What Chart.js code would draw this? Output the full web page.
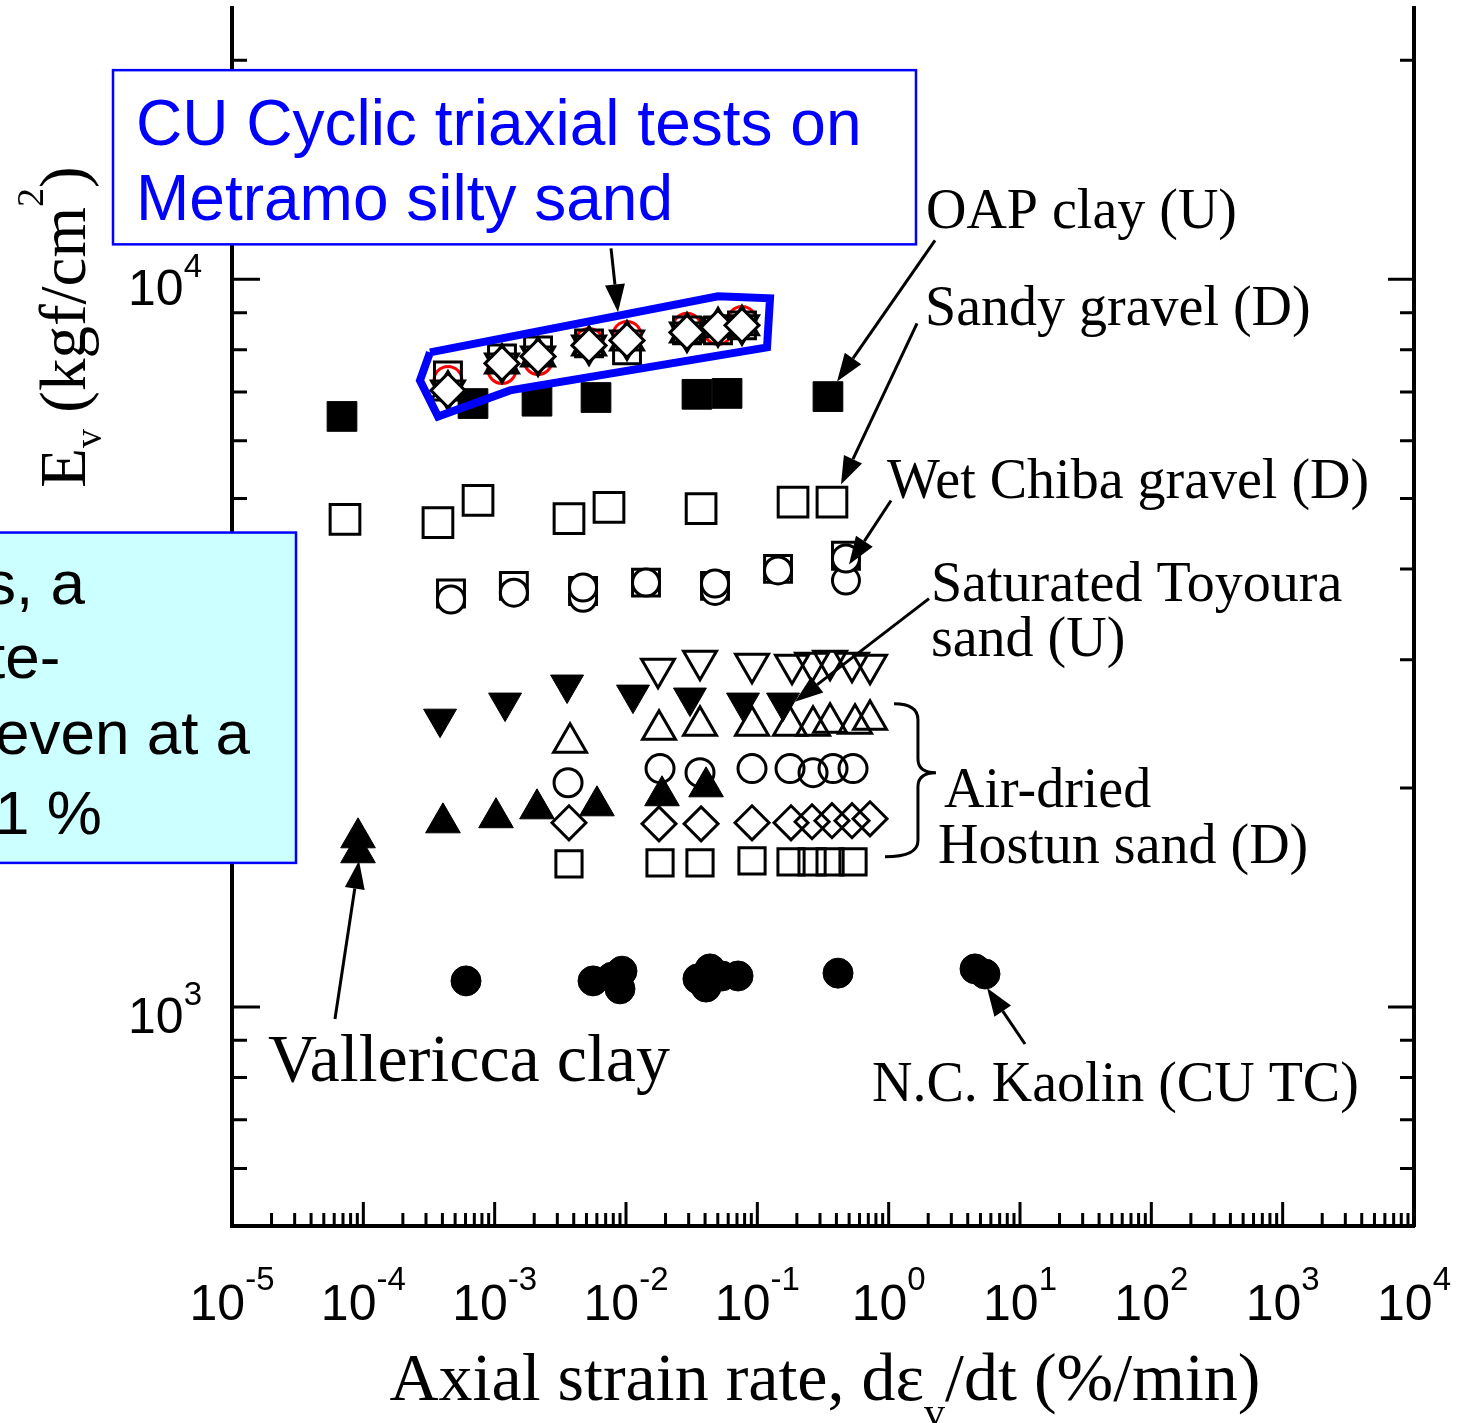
<!DOCTYPE html>
<html>
<head>
<meta charset="utf-8">
<script src="https://cdn.jsdelivr.net/npm/chart.js@4.4.1/dist/chart.umd.min.js"></script>
<style>
    html, body { margin: 0; padding: 0; background: #fff; }
    #wrap { width: 1478px; height: 1423px; position: relative; }
</style>
</head>
<body>
<div id="wrap"><canvas id="chart" width="1478" height="1423"></canvas></div>
<script>
// x: axial strain rate (%/min), y: Ev (kgf/cm2)

// CU cyclic triaxial tests on Metramo silty sand
const metX = [4.41e-4, 1.137e-3, 2.14e-3, 5.23e-3, 0.01018, 0.02914, 0.0502, 0.0764];
const metDiamondY = [7036, 7664, 7836, 8114, 8243, 8454, 8590, 8645];
const metTriY = [7036, 7664, 7836, 8114, 8243, 8454, 8590, 8645];
const metSquareY = [7380, 7786, 7986, 8165, 7986, 8508, 8508, 8645];
const metCircleY = [7262, 7519, 7737, 8190, 8374, 8590, 8508, 8781];

// outline drawn round the Metramo points
const outlineX = [3.218e-4, 0.0502, 0.1249, 0.1185, 1.308e-3, 3.703e-4, 2.70e-4, 3.218e-4];
const outlineY = [7937, 9476, 9416, 8062, 7036, 6480, 7262, 7937];

// OAP clay (U)
const oapX = [6.88e-5, 6.84e-4, 2.10e-3, 5.91e-3, 0.0347, 0.0588, 0.345];
const oapY = [6480, 6750, 6800, 6880, 6950, 6970, 6900];

// Sandy gravel (D)
const sandyX = [7.25e-5, 3.70e-4, 7.47e-4, 3.68e-3, 7.42e-3, 0.0373, 0.187, 0.370];
const sandyY = [4680, 4630, 4970, 4690, 4860, 4840, 4940, 4940];

// Wet Chiba gravel (D)
const chibaX = [4.65e-4, 1.40e-3, 4.71e-3, 0.0142, 0.0476, 0.1437, 0.473];
const chibaSquareY = [3700, 3790, 3730, 3830, 3790, 4000, 4170];
const chibaCircleY = [3630, 3710, 3650, 3830, 3730, 3980, 3855];
const chibaCircle2X = [4.71e-3, 0.0476, 0.473];
const chibaCircle2Y = [3770, 3818, 4133];

// Saturated Toyoura sand (U)
const toyouraX = [3.84e-4, 1.20e-3, 3.56e-3, 0.0113, 0.0307, 0.0778, 0.157];
const toyouraY = [2490, 2620, 2774, 2687, 2662, 2620, 2620];

// filled up triangles
const solidUpX = [4.04e-4, 1.024e-3, 2.10e-3, 6.01e-3, 0.0188, 0.0407];
const solidUpY = [1791, 1820, 1872, 1890, 1951, 2007];

// Vallericca clay
const valX = [9.11e-5, 9.11e-5];
const valY = [1708, 1629];

// Air-dried Hostun sand (D)
const hostDownX = [0.01753, 0.0366, 0.0911, 0.1837, 0.261, 0.358, 0.526, 0.721];
const hostDownY = [2917, 2992, 2963, 2954, 2973, 2992, 2973, 2954];
const hostUpX = [3.75e-3, 0.01784, 0.0366, 0.0911, 0.1774, 0.2655, 0.358, 0.5544, 0.721];
const hostUpY = [2307, 2404, 2435, 2435, 2435, 2435, 2458, 2450, 2482];
const hostCircleX = [3.62e-3, 0.01816, 0.0366, 0.0911, 0.1774, 0.2655, 0.377, 0.5354];
const hostCircleY = [2033, 2126, 2099, 2126, 2126, 2099, 2126, 2126];
const hostDiamondX = [3.68e-3, 0.01784, 0.0373, 0.0911, 0.1805, 0.261, 0.370, 0.526, 0.721];
const hostDiamondY = [1791, 1785, 1785, 1791, 1791, 1797, 1803, 1803, 1814];
const hostSquareX = [3.68e-3, 0.01816, 0.0366, 0.0911, 0.1805, 0.261, 0.358, 0.5354];
const hostSquareY = [1573, 1578, 1578, 1588, 1583, 1583, 1583, 1583];

// N.C. Kaolin (CU TC)
const kaolinX = [6.05e-4, 5.61e-3, 7.82e-3, 9.32e-3, 9.00e-3, 0.0353, 0.0436, 0.0407, 0.0538, 0.0713, 0.4115, 4.545, 5.415];
const kaolinY = [1086, 1086, 1099, 1120, 1059, 1093, 1128, 1065, 1103, 1103, 1113, 1128, 1110];

// axis ticks
const xExponents = [-5, -4, -3, -2, -1, 0, 1, 2, 3, 4];
const yExponents = [3, 4];
const yMinorTicks = [500, 600, 700, 800, 900, 2000, 3000, 4000, 5000, 6000, 7000, 8000, 9000, 20000];

const SANS = '"Liberation Sans", Arial, sans-serif';
const SERIF = '"Liberation Serif", "Times New Roman", serif';

// annotation anchors, in log10 units of the two axes
const labelAnchors = [
    { text: "OAP clay (U)", at: [0.284, 4.070], size: 56 },
    { text: "Sandy gravel (D)", at: [0.277, 3.937], size: 56 },
    { text: "Wet Chiba gravel (D)", at: [-0.013, 3.700], size: 56 },
    { text: "Saturated Toyoura", at: [0.322, 3.5585], size: 56 },
    { text: "sand (U)", at: [0.322, 3.483], size: 56 },
    { text: "Air-dried", at: [0.421, 3.275], size: 56 },
    { text: "Hostun sand (D)", at: [0.376, 3.198], size: 56 },
    { text: "Vallericca clay", at: [-4.726, 2.898], size: 68 },
    { text: "N.C. Kaolin (CU TC)", at: [-0.127, 2.871], size: 56 }
];

const arrowAnchors = [
    [[0.353, 4.0536], [-0.393, 3.8597]],
    [[0.216, 3.9395], [-0.363, 3.718]],
    [[0.018, 3.696], [-0.302, 3.608]],
    [[0.307, 3.5612], [-0.713, 3.4195]],
    [[-4.216, 2.9835], [-4.033, 3.2008]],
    [[1.038, 2.9491], [0.749, 3.0261]],
    [[-2.114, 4.0426], [-2.061, 3.9546]]
];

const braceAnchor = { top: [0.041, 3.4168], tip: [0.36, 3.3219], bottom: [-0.028, 3.2063], mid: 0.223 };

const blueNote = {
    box: [[-5.906, 4.2875], [0.208, 4.0481]],
    lines: ["CU Cyclic triaxial tests on", "Metramo silty sand"],
    at: [[-5.731, 4.1843], [-5.731, 4.0812]],
    size: 64
};

const cyanNote = {
    box: [[-6.805, 3.652], [-4.5127, 3.198]],
    lines: ["s, a", "te-", "even at a", "1 %"],
    at: [[-6.881, 3.5543], [-6.858, 3.4525], [-6.8046, 3.348], [-6.8046, 3.238]],
    size: 62
};

function pts(xs, ys) {
    return xs.map(function (x, i) { return { x: x, y: ys[i] }; });
}

function marker(label, xs, ys, style, radius, fill, stroke, width, rotation) {
    return {
        label: label,
        data: pts(xs, ys),
        showLine: false,
        pointStyle: style,
        pointRadius: radius,
        pointHoverRadius: radius,
        pointBackgroundColor: fill,
        pointBorderColor: stroke,
        pointBorderWidth: width,
        pointRotation: rotation || 0
    };
}

function drawRich(ctx, parts, x, y, align, family) {
    let w = 0;
    parts.forEach(function (p) {
        ctx.font = p.size + "px " + family;
        p.w = ctx.measureText(p.t).width;
        w += p.w;
    });
    let cx = align === "center" ? x - w / 2 : (align === "right" ? x - w : x);
    ctx.textAlign = "left";
    ctx.textBaseline = "alphabetic";
    parts.forEach(function (p) {
        ctx.font = p.size + "px " + family;
        ctx.fillText(p.t, cx, y + (p.dy || 0));
        cx += p.w;
    });
}

function arrow(ctx, x1, y1, x2, y2) {
    const ang = Math.atan2(y2 - y1, x2 - x1);
    const L = 28, H = 10;
    const bx = x2 - L * Math.cos(ang), by = y2 - L * Math.sin(ang);
    ctx.beginPath();
    ctx.moveTo(x1, y1);
    ctx.lineTo(bx, by);
    ctx.stroke();
    ctx.beginPath();
    ctx.moveTo(x2, y2);
    ctx.lineTo(bx + H * Math.sin(ang), by - H * Math.cos(ang));
    ctx.lineTo(bx - H * Math.sin(ang), by + H * Math.cos(ang));
    ctx.closePath();
    ctx.fill();
}

const decorations = {
    id: "decorations",
    afterDraw: function (chart) {
        const ctx = chart.ctx;
        const xs = chart.scales.x, ys = chart.scales.y, a = chart.chartArea;
        const P = function (p) {
            return [xs.getPixelForValue(Math.pow(10, p[0])), ys.getPixelForValue(Math.pow(10, p[1]))];
        };
        ctx.save();
        ctx.strokeStyle = "#000";
        ctx.fillStyle = "#000";
        ctx.lineWidth = 3;

        // inward ticks
        ctx.beginPath();
        for (let e = -5; e <= 4; e++) {
            for (let m = 1; m <= 9; m++) {
                if (e === 4 && m > 1) break;
                const px = xs.getPixelForValue(m * Math.pow(10, e));
                const len = m === 1 ? 24 : 13;
                ctx.moveTo(px, a.bottom);
                ctx.lineTo(px, a.bottom - len);
            }
        }
        const yTicks = yMinorTicks.map(function (v) { return [v, false]; })
            .concat(yExponents.map(function (e) { return [Math.pow(10, e), true]; }));
        yTicks.forEach(function (t) {
            const py = ys.getPixelForValue(t[0]);
            ctx.moveTo(a.left, py);
            ctx.lineTo(a.left + (t[1] ? 28 : 15), py);
            ctx.moveTo(a.right, py);
            ctx.lineTo(a.right - (t[1] ? 26 : 14), py);
        });
        ctx.stroke();

        // tick labels
        xExponents.forEach(function (e) {
            const px = xs.getPixelForValue(Math.pow(10, e));
            drawRich(ctx, [{ t: "10", size: 50 }, { t: String(e), size: 33, dy: -30 }], px, a.bottom + 94, "center", SANS);
        });
        yExponents.forEach(function (e) {
            const py = ys.getPixelForValue(Math.pow(10, e));
            drawRich(ctx, [{ t: "10", size: 50 }, { t: String(e), size: 33, dy: -28 }], a.left - 30, py + 26, "right", SANS);
        });

        // axis titles
        drawRich(ctx, [
            { t: "Axial strain rate, d\u03b5", size: 68 },
            { t: "v", size: 42, dy: 26 },
            { t: "/dt (%/min)", size: 68 }
        ], (a.left + a.right) / 2 + 2, a.bottom + 174, "center", SERIF);

        ctx.save();
        ctx.translate(85, ys.getPixelForValue(8600));
        ctx.rotate(-Math.PI / 2);
        drawRich(ctx, [
            { t: "E", size: 65 },
            { t: "v", size: 38, dy: 16 },
            { t: " (kgf/cm", size: 65 },
            { t: "2", size: 38, dy: -42 },
            { t: ")", size: 65 }
        ], 0, 0, "center", SERIF);
        ctx.restore();

        // series labels
        labelAnchors.forEach(function (l) {
            const p = P(l.at);
            ctx.font = l.size + "px " + SERIF;
            ctx.textAlign = "left";
            ctx.fillText(l.text, p[0], p[1]);
        });

        // arrows
        arrowAnchors.forEach(function (ar) {
            const p1 = P(ar[0]), p2 = P(ar[1]);
            arrow(ctx, p1[0], p1[1], p2[0], p2[1]);
        });

        // brace for Hostun sand
        const bt = P(braceAnchor.top), bp = P(braceAnchor.tip), bb = P(braceAnchor.bottom);
        const bx = xs.getPixelForValue(Math.pow(10, braceAnchor.mid));
        ctx.beginPath();
        ctx.moveTo(bt[0], bt[1]);
        ctx.quadraticCurveTo(bx, bt[1], bx, bt[1] + 16);
        ctx.lineTo(bx, bp[1] - 14);
        ctx.quadraticCurveTo(bx, bp[1], bp[0], bp[1]);
        ctx.quadraticCurveTo(bx, bp[1], bx, bp[1] + 14);
        ctx.lineTo(bx, bb[1] - 16);
        ctx.quadraticCurveTo(bx, bb[1], bb[0], bb[1]);
        ctx.stroke();

        // note boxes
        [[blueNote, "#ffffff", "#0000ff"], [cyanNote, "#ccffff", "#000000"]].forEach(function (n) {
            const note = n[0];
            const p1 = P(note.box[0]), p2 = P(note.box[1]);
            ctx.fillStyle = n[1];
            ctx.fillRect(p1[0], p1[1], p2[0] - p1[0], p2[1] - p1[1]);
            ctx.strokeStyle = "#0000ff";
            ctx.lineWidth = 2.5;
            ctx.strokeRect(p1[0], p1[1], p2[0] - p1[0], p2[1] - p1[1]);
            ctx.fillStyle = n[2];
            ctx.font = note.size + "px " + SANS;
            ctx.textAlign = "left";
            note.lines.forEach(function (t, i) {
                const p = P(note.at[i]);
                ctx.fillText(t, p[0], p[1]);
            });
        });

        ctx.restore();
    }
};

const datasets = [
    {
        label: "outline",
        data: pts(outlineX, outlineY),
        showLine: true,
        borderColor: "#0000ff",
        borderWidth: 8,
        borderJoinStyle: "miter",
        pointRadius: 0,
        tension: 0,
        fill: false
    },
    marker("Metramo diamonds", metX, metDiamondY, "rectRot", 17, "#ffffff", "#000", 3),
    marker("Metramo up", metX, metTriY, "triangle", 19, "transparent", "#000", 3),
    marker("Metramo down", metX, metTriY, "triangle", 19, "transparent", "#000", 3, 180),
    marker("Metramo squares", metX, metSquareY, "rect", 19, "transparent", "#000", 3),
    marker("Metramo circles", metX, metCircleY, "circle", 14, "transparent", "#ff0000", 3),
    marker("OAP clay (U)", oapX, oapY, "rect", 21, "#000", "#000", 1),
    marker("Sandy gravel (D)", sandyX, sandyY, "rect", 21, "#ffffff", "#000", 3),
    marker("Wet Chiba circles 2", chibaCircle2X, chibaCircle2Y, "circle", 13.5, "#ffffff", "#000", 3),
    marker("Wet Chiba circles", chibaX, chibaCircleY, "circle", 13.5, "#ffffff", "#000", 3),
    marker("Wet Chiba squares", chibaX, chibaSquareY, "rect", 19, "#ffffff", "#000", 3),
    marker("Saturated Toyoura sand (U)", toyouraX, toyouraY, "triangle", 19, "#000", "#000", 1, 180),
    marker("Filled triangles", solidUpX, solidUpY, "triangle", 20, "#000", "#000", 1),
    marker("Vallericca clay", valX, valY, "triangle", 20, "#000", "#000", 1),
    marker("Hostun down", hostDownX, hostDownY, "triangle", 19, "transparent", "#000", 3, 180),
    marker("Hostun up", hostUpX, hostUpY, "triangle", 19, "transparent", "#000", 3),
    marker("Hostun circles", hostCircleX, hostCircleY, "circle", 14, "transparent", "#000", 3),
    marker("Hostun diamonds", hostDiamondX, hostDiamondY, "rectRot", 17, "transparent", "#000", 3),
    marker("Hostun squares", hostSquareX, hostSquareY, "rect", 18.5, "transparent", "#000", 3),
    marker("N.C. Kaolin (CU TC)", kaolinX, kaolinY, "circle", 15, "#000", "#000", 1)
];

const axisCommon = {
    type: "logarithmic",
    ticks: { display: false },
    grid: { display: false },
    border: { display: true, color: "#000", width: 4 }
};

const chart = new Chart(document.getElementById("chart"), {
    type: "scatter",
    data: { datasets: datasets },
    plugins: [decorations],
    options: {
        responsive: false,
        animation: false,
        devicePixelRatio: 1,
        events: [],
        layout: { autoPadding: false, padding: { top: 8, left: 0, right: 0, bottom: 0 } },
        plugins: {
            legend: { display: false },
            tooltip: { enabled: false }
        },
        scales: {
            x: Object.assign({}, axisCommon, {
                position: "bottom",
                min: 1e-5,
                max: 1e4,
                afterFit: function (s) { s.height = 197; }
            }),
            y: Object.assign({}, axisCommon, {
                position: "left",
                min: 500,
                max: 23600,
                afterFit: function (s) { s.width = 232; }
            }),
            y2: Object.assign({}, axisCommon, {
                position: "right",
                min: 500,
                max: 23600,
                afterFit: function (s) { s.width = 64; }
            })
        }
    }
});
</script>
</body>
</html>
